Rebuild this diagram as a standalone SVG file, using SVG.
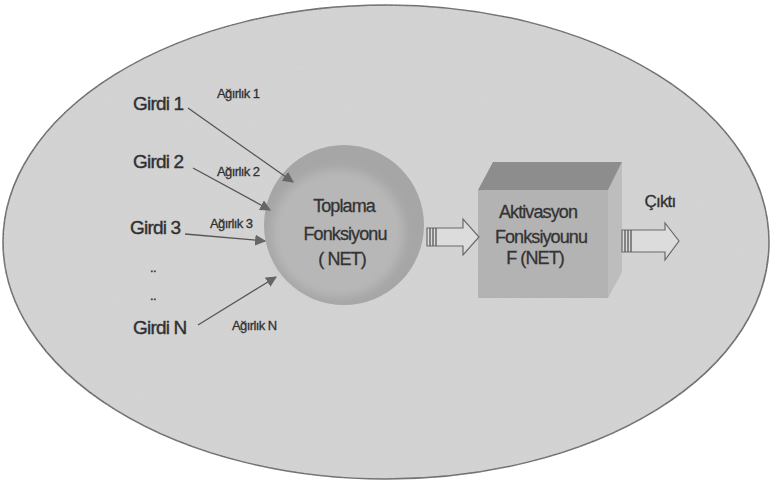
<svg xmlns="http://www.w3.org/2000/svg" width="772" height="484" viewBox="0 0 772 484">
<style>
.in{font-family:"Liberation Sans",Arial,sans-serif;font-size:19px;fill:#303030;letter-spacing:-0.8px;stroke:#303030;stroke-width:0.4}
.w{font-family:"Liberation Sans",Arial,sans-serif;font-size:13px;fill:#303030;letter-spacing:-0.6px;stroke:#303030;stroke-width:0.3}
.n{font-family:"Liberation Sans",Arial,sans-serif;font-size:18px;fill:#333;letter-spacing:-0.9px;text-anchor:middle;stroke:#333;stroke-width:0.3}
.conn line{stroke:#555;stroke-width:1.3}
.blk{fill:#dcdcdc;stroke:#6a6a6a;stroke-width:1.2}
.stripe{stroke:#6a6a6a;stroke-width:1}
</style>
<defs>
<marker id="ah" viewBox="0 0 10 10" refX="9" refY="5" markerWidth="11" markerHeight="11" markerUnits="userSpaceOnUse" orient="auto"><path d="M0,0 L10,5 L0,10 z" fill="#666"/></marker>
<filter id="soft" x="-20%" y="-20%" width="140%" height="140%"><feGaussianBlur stdDeviation="5"/></filter>
<filter id="tex"><feTurbulence type="fractalNoise" baseFrequency="0.9" numOctaves="2" seed="3" result="t"/><feColorMatrix in="t" type="matrix" values="0 0 0 0 0.78  0 0 0 0 0.78  0 0 0 0 0.78  0 0 0 0.25 0" result="c"/><feComposite in="c" in2="SourceGraphic" operator="in" result="m"/><feMerge><feMergeNode in="SourceGraphic"/><feMergeNode in="m"/></feMerge></filter>
</defs>
<rect width="772" height="484" fill="#ffffff"/>
<g id="frame">
<ellipse cx="386" cy="242" rx="383" ry="237" fill="#d0d0d0" stroke="#555" stroke-width="1.5" filter="url(#tex)"/>
</g>
<g id="sum">
<circle cx="344" cy="225" r="80" fill="#a6a6a6"/>
<ellipse cx="338" cy="233" rx="66" ry="64" fill="#b7b7b7" filter="url(#soft)"/>
<text class="n" x="344" y="212">Toplama</text>
<text class="n" x="345" y="240">Fonksiyonu</text>
<text class="n" x="342" y="265">( NET)</text>
</g>
<g id="act">
<polygon points="608,190 622,162 622,272 608,298" fill="#bdbdbd"/>
<polygon points="478,190 608,190 622,162 493,162" fill="#8d8d8d"/>
<rect x="478" y="190" width="130" height="108" fill="#b3b3b3"/>
<text class="n" x="538" y="218">Aktivasyon</text>
<text class="n" x="541" y="243">Fonksiyounu</text>
<text class="n" x="535" y="264">F (NET)</text>
</g>
<g id="inputs">
<text class="in" x="133" y="110">Girdi 1</text>
<text class="in" x="133" y="168">Girdi 2</text>
<text class="in" x="130" y="234">Girdi 3</text>
<text class="in" x="133" y="334">Girdi N</text>
<text class="w" x="150" y="272">..</text>
<text class="w" x="150" y="300">..</text>
</g>
<g id="weights">
<text class="w" x="217" y="98">Ağırlık 1</text>
<text class="w" x="217" y="176">Ağırlık 2</text>
<text class="w" x="210" y="228">Ağırlık 3</text>
<text class="w" x="232" y="330">Ağırlık N</text>
</g>
<g id="output">
<text x="660" y="207" font-family="Liberation Sans,Arial,sans-serif" font-size="17" fill="#303030" stroke="#303030" stroke-width="0.3" letter-spacing="-0.8" text-anchor="middle">Çıktı</text>
</g>
<g class="conn" id="connectors">
<line x1="188" y1="108" x2="293" y2="182" marker-end="url(#ah)"/>
<line x1="193" y1="168" x2="270" y2="210" marker-end="url(#ah)"/>
<line x1="185" y1="234" x2="265" y2="241" marker-end="url(#ah)"/>
<line x1="198" y1="325" x2="276" y2="277" marker-end="url(#ah)"/>
<polygon class="blk" points="427,228 463,228 463,219 479,237 463,255 463,246 427,246"/>
<line class="stripe" x1="430" y1="228" x2="430" y2="246"/>
<line class="stripe" x1="433" y1="228" x2="433" y2="246"/>
<line class="stripe" x1="436" y1="228" x2="436" y2="246"/>
<polygon class="blk" points="622,230 665,230 665,223 679,241 665,260 665,252 622,252"/>
<line class="stripe" x1="625" y1="230" x2="625" y2="252"/>
<line class="stripe" x1="628" y1="230" x2="628" y2="252"/>
<line class="stripe" x1="631" y1="230" x2="631" y2="252"/>
</g>
</svg>
